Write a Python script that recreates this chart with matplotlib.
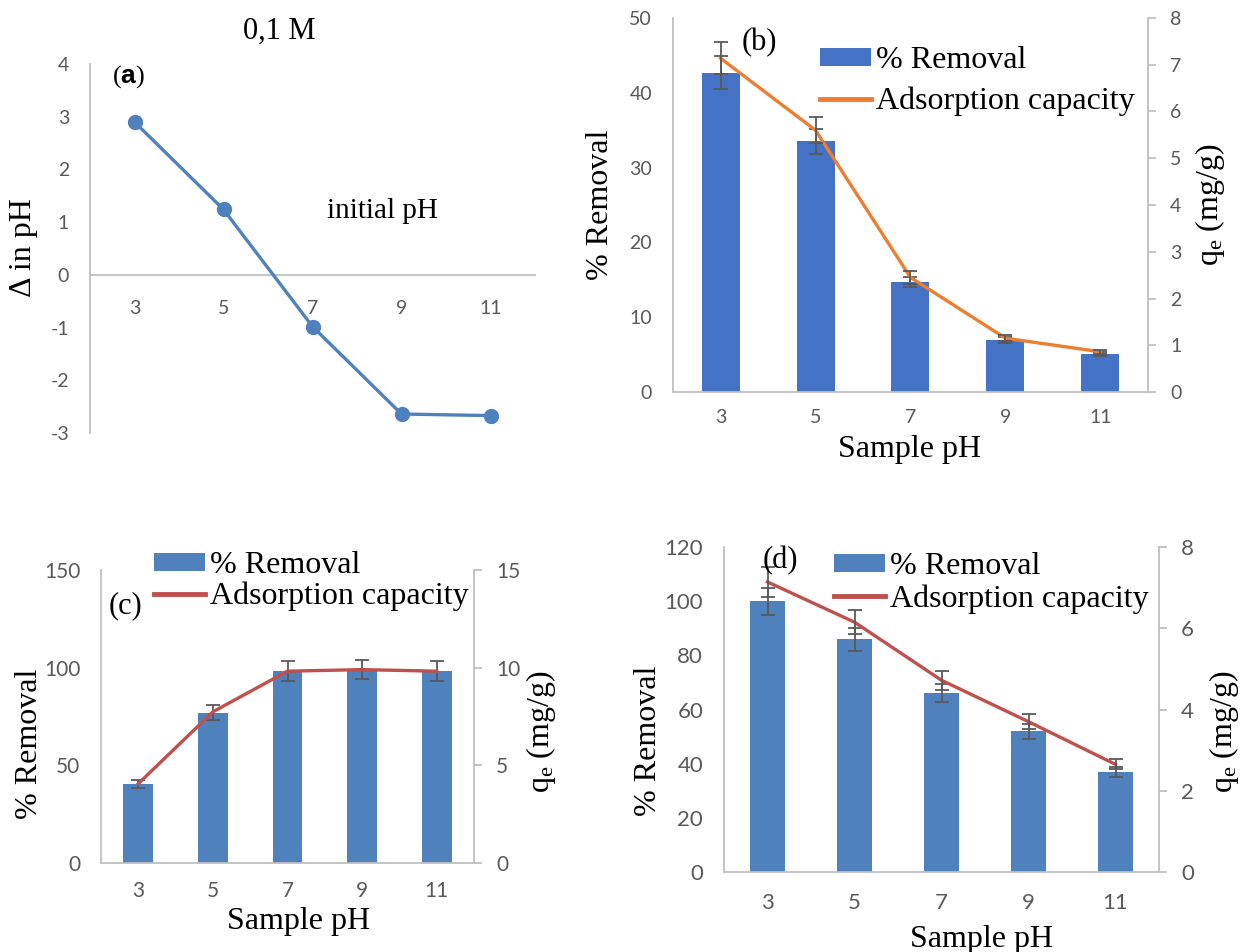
import matplotlib
matplotlib.use('Agg')
import matplotlib.pyplot as plt
from matplotlib.patches import Patch
from matplotlib.lines import Line2D

W, H, DPI = 1242, 952, 100

# ---------------- data ----------------
ph_labels = ['3', '5', '7', '9', '11']

# (a) change in pH vs initial pH (0,1 M)
delta_ph = [2.9, 1.24, -0.98, -2.64, -2.67]

# (b)
b_removal = [42.7, 33.5, 14.7, 6.9, 5.1]
b_removal_err = [2.2, 1.7, 0.7, 0.4, 0.3]
b_qe = [7.14, 5.6, 2.45, 1.15, 0.86]
b_qe_err = [0.34, 0.28, 0.13, 0.06, 0.04]

# (c)
c_removal = [40.6, 76.9, 98.2, 99.0, 98.2]
c_removal_err = [2.1, 3.8, 5.1, 5.0, 5.1]
c_qe = [4.06, 7.74, 9.82, 9.9, 9.82]

# (d)
d_removal = [100.0, 85.9, 66.0, 52.0, 36.9]
d_removal_err = [5.0, 4.2, 3.3, 2.8, 1.9]
d_qe = [7.14, 6.15, 4.72, 3.70, 2.65]
d_qe_err = [0.38, 0.30, 0.23, 0.18, 0.12]

# ---------------- style ----------------
SERIF = 'Liberation Serif'
TICKF = 'Lato'
TICKC = '#595959'
SPINEC = '#BFBFBF'
ERRC = '#595959'
plt.rcParams['axes.unicode_minus'] = False
plt.rcParams['mathtext.fontset'] = 'custom'
plt.rcParams['mathtext.rm'] = 'Liberation Serif'
plt.rcParams['mathtext.it'] = 'Liberation Serif:italic'
plt.rcParams['mathtext.bf'] = 'Liberation Sans:bold'

fig = plt.figure(figsize=(W / DPI, H / DPI), dpi=DPI)


def rect(left, top, right, bottom):
    return [left / W, (H - bottom) / H, (right - left) / W, (bottom - top) / H]


def px_frac(ax_box, x, y):
    l, t, r, b = ax_box
    return (x - l) / (r - l), (b - y) / (b - t)


x = list(range(len(ph_labels)))

# ---------------- (a) ----------------
box_a = (90, 64, 535, 433)
ax = fig.add_axes(rect(*box_a))
ax.plot(x, delta_ph, '-o', color='#4F81BD', lw=2.4, ms=10, zorder=3)
ax.set_xlim(-0.5, 4.5)
ax.set_ylim(-3, 4)
ax.set_yticks(range(-3, 5))
ax.set_xticks(x)
ax.set_xticklabels(ph_labels)
for s in ('top', 'right'):
    ax.spines[s].set_visible(False)
ax.spines['bottom'].set_position(('data', 0))
for s in ('left', 'bottom'):
    ax.spines[s].set_color(SPINEC)
    ax.spines[s].set_linewidth(1.3)
ax.tick_params(axis='both', length=0, labelsize=14, labelcolor=TICKC)
ax.tick_params(axis='y', pad=15)
ax.tick_params(axis='x', pad=18)
for lab in ax.get_xticklabels() + ax.get_yticklabels():
    lab.set_fontfamily(TICKF)
ax.set_ylabel('Δ in pH', fontsize=23, family=SERIF, va='center')
ax.yaxis.set_label_coords(*px_frac(box_a, 24, 248))
ax.text(*px_frac(box_a, 279, 31), '0,1 M', transform=ax.transAxes,
        ha='center', va='center', fontsize=22, family=SERIF)
ax.text(*px_frac(box_a, 129, 77), r'($\mathbf{a}$)', transform=ax.transAxes,
        ha='center', va='center', fontsize=19, family=SERIF)
ax.text(*px_frac(box_a, 382, 211), 'initial pH', transform=ax.transAxes,
        ha='center', va='center', fontsize=21, family=SERIF)


def bar_panel(box, removal, removal_err, qe, qe_err, ylim_l, yt_l, ylim_r, yt_r,
              bar_color, line_color, tick_size, xpad, letter, letter_xy,
              ylab_l_xy, ylab_r_xy, xlab_xy, leg_xy, leg_spacing):
    ax = fig.add_axes(rect(*box))
    ax.bar(x, removal, width=0.4, color=bar_color, zorder=2)
    ax.errorbar(x, removal, yerr=removal_err, fmt='none', ecolor=ERRC,
                elinewidth=1.3, capsize=5, capthick=1.3, zorder=4)
    ax.set_xlim(-0.5, 4.5)
    ax.set_ylim(*ylim_l)
    ax.set_yticks(yt_l)
    ax.set_xticks(x)
    ax.set_xticklabels(ph_labels)
    ax2 = ax.twinx()
    ax2.plot(x, qe, '-', color=line_color, lw=2.4, zorder=3)
    if qe_err is not None:
        ax2.errorbar(x, qe, yerr=qe_err, fmt='none', ecolor=ERRC,
                     elinewidth=1.3, capsize=5, capthick=1.3, zorder=4)
    ax2.set_ylim(*ylim_r)
    ax2.set_yticks(yt_r)
    for a in (ax, ax2):
        a.spines['top'].set_visible(False)
        for s in ('left', 'right', 'bottom'):
            a.spines[s].set_color(SPINEC)
            a.spines[s].set_linewidth(1.3)
    ax.spines['right'].set_visible(False)
    ax2.spines['left'].set_visible(False)
    ax2.spines['bottom'].set_visible(False)
    ax.tick_params(axis='both', length=0, labelsize=tick_size, labelcolor=TICKC)
    ax.tick_params(axis='y', pad=15)
    ax.tick_params(axis='x', pad=xpad)
    ax2.tick_params(axis='y', length=6, width=1.3, color=SPINEC, pad=10,
                    labelsize=tick_size, labelcolor=TICKC)
    for lab in ax.get_xticklabels() + ax.get_yticklabels() + ax2.get_yticklabels():
        lab.set_fontfamily(TICKF)
    ax.set_ylabel('% Removal', fontsize=23, family=SERIF, va='center')
    ax.yaxis.set_label_coords(*px_frac(box, *ylab_l_xy))
    ax2.set_ylabel(r'q$_{\mathrm{e}}$ (mg/g)', fontsize=23, family=SERIF,
                   va='center', rotation=90)
    ax2.yaxis.set_label_coords(*px_frac(box, *ylab_r_xy))
    ax.set_xlabel('Sample pH', fontsize=23, family=SERIF, va='center')
    ax.xaxis.set_label_coords(*px_frac(box, *xlab_xy))
    ax2.text(*px_frac(box, *letter_xy), letter, transform=ax2.transAxes,
             ha='center', va='center', fontsize=22, family=SERIF, zorder=6)
    handles = [Patch(facecolor=bar_color), Line2D([], [], color=line_color, lw=3.5)]
    lx, ly = px_frac(box, leg_xy[0], leg_xy[1] - 12)
    ax2.legend(handles, ['% Removal', 'Adsorption capacity'], loc='upper left',
               bbox_to_anchor=(lx, ly), frameon=False, borderpad=0,
               borderaxespad=0, handlelength=1.6, handleheight=0.5,
               handletextpad=0.15, labelspacing=leg_spacing,
               prop={'family': SERIF, 'size': 23})
    return ax, ax2


# ---------------- (b) ----------------
bar_panel((673, 18, 1148, 392), b_removal, b_removal_err, b_qe, b_qe_err,
          (0, 50), range(0, 51, 10), (0, 8), range(0, 9),
          '#4472C4', '#ED7D31', 14, 12, '(b)', (759, 43),
          (601, 205), (1210, 205), (910, 449), (820, 58), 0.36)

# ---------------- (c) ----------------
bar_panel((101, 570, 474, 863), c_removal, c_removal_err, c_qe, None,
          (0, 150), range(0, 151, 50), (0, 15), range(0, 16, 5),
          '#4F81BD', '#C0504D', 15, 13, '(c)', (125, 606),
          (30, 744), (541, 732), (299, 921), (154, 563), 0.05)

# ---------------- (d) ----------------
bar_panel((724, 547, 1159, 872), d_removal, d_removal_err, d_qe, d_qe_err,
          (0, 120), range(0, 121, 20), (0, 8), range(0, 9, 2),
          '#4F81BD', '#C0504D', 16, 15, '(d)', (780, 561),
          (649, 741), (1224, 732), (982, 939), (834, 564), 0.1)

fig.savefig('out.png', dpi=DPI)
